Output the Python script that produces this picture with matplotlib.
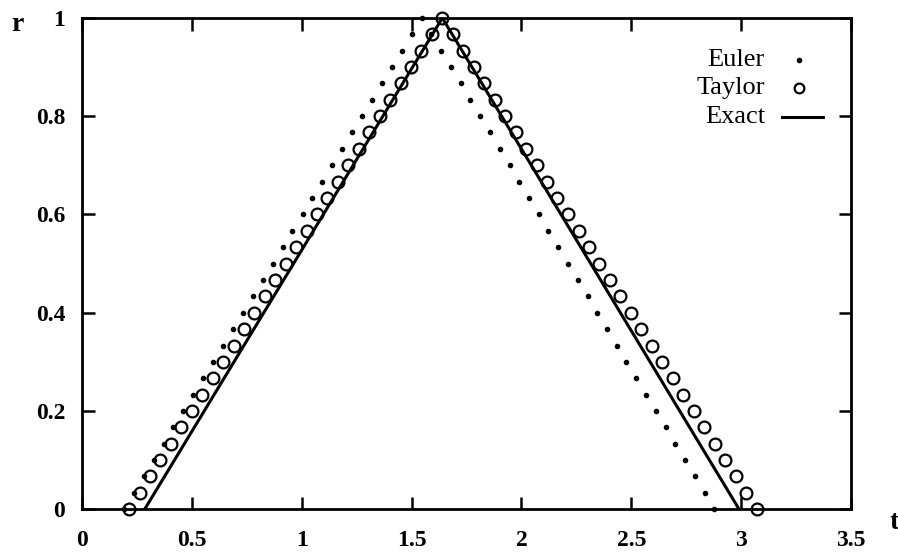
import matplotlib.pyplot as plt

# Exact solution (piecewise linear)
exact_t = [0.286, 1.640, 2.990]
exact_r = [0.0, 1.0, 0.0]

# Shared r values for the numerical schemes (up then down)
r_up = [0.0, 0.033, 0.067, 0.1, 0.133, 0.167, 0.2, 0.233, 0.267, 0.3,
        0.333, 0.367, 0.4, 0.433, 0.467, 0.5, 0.533, 0.567, 0.6, 0.633,
        0.667, 0.7, 0.733, 0.767, 0.8, 0.833, 0.867, 0.9, 0.933, 0.967, 1.0]
r_down = [0.967, 0.933, 0.9, 0.867, 0.833, 0.8, 0.767, 0.733, 0.7, 0.667,
          0.633, 0.6, 0.567, 0.533, 0.5, 0.467, 0.433, 0.4, 0.367, 0.333,
          0.3, 0.267, 0.233, 0.2, 0.167, 0.133, 0.1, 0.067, 0.033, 0.0]
scheme_r = r_up + r_down

taylor_t = [0.215, 0.262, 0.310, 0.357, 0.405, 0.452, 0.500, 0.547, 0.595, 0.642,
            0.690, 0.737, 0.785, 0.832, 0.880, 0.927, 0.975, 1.022, 1.070, 1.117,
            1.165, 1.212, 1.260, 1.307, 1.355, 1.402, 1.450, 1.497, 1.545, 1.592,
            1.640,
            1.688, 1.735, 1.783, 1.831, 1.878, 1.926, 1.974, 2.021, 2.069, 2.117,
            2.164, 2.212, 2.260, 2.307, 2.355, 2.403, 2.450, 2.498, 2.546, 2.593,
            2.641, 2.689, 2.736, 2.784, 2.832, 2.879, 2.927, 2.975, 3.022, 3.070]

euler_t = [0.190, 0.235, 0.280, 0.326, 0.371, 0.416, 0.461, 0.506, 0.552, 0.597,
           0.642, 0.687, 0.732, 0.778, 0.823, 0.868, 0.913, 0.958, 1.004, 1.049,
           1.094, 1.139, 1.184, 1.230, 1.275, 1.320, 1.365, 1.410, 1.456, 1.501,
           1.546,
           1.590, 1.635, 1.679, 1.724, 1.768, 1.812, 1.857, 1.901, 1.946, 1.990,
           2.034, 2.079, 2.123, 2.168, 2.212, 2.256, 2.301, 2.345, 2.390, 2.434,
           2.478, 2.523, 2.567, 2.612, 2.656, 2.700, 2.745, 2.789, 2.834, 2.878]

x_ticks = [0, 0.5, 1, 1.5, 2, 2.5, 3, 3.5]
x_labels = ['0', '0.5', '1', '1.5', '2', '2.5', '3', '3.5']
y_ticks = [0, 0.2, 0.4, 0.6, 0.8, 1]
y_labels = ['0', '0.2', '0.4', '0.6', '0.8', '1']

plt.rcParams['font.family'] = ['Liberation Serif', 'DejaVu Serif']
plt.rcParams['font.weight'] = 'bold'

fig = plt.figure(figsize=(8.98, 5.54), dpi=100)
ax = fig.add_axes([0.0913, 0.0812, 0.8564, 0.8863])

euler_style = dict(linestyle='none', marker='o', markersize=3, color='black')
taylor_style = dict(linestyle='none', marker='o', markersize=8.5,
                    markerfacecolor='none', markeredgecolor='black',
                    markeredgewidth=1.6)
exact_style = dict(color='black', linewidth=2.2)

ax.plot(euler_t, scheme_r, clip_on=False, **euler_style)
ax.plot(taylor_t, scheme_r, clip_on=False, **taylor_style)
ax.plot(exact_t, exact_r, **exact_style)

ax.set_xlim(0, 3.5)
ax.set_ylim(0, 1)
ax.set_xticks(x_ticks)
ax.set_xticklabels(x_labels)
ax.set_yticks(y_ticks)
ax.set_yticklabels(y_labels)
ax.tick_params(direction='in', length=9, width=1.8, top=True, right=True,
               labelsize=17)
ax.tick_params(axis='x', pad=15)
ax.tick_params(axis='y', pad=12)
for s in ax.spines.values():
    s.set_linewidth(2)

fig.text(0.012, 0.955, 'r', fontsize=20, ha='left', va='center')
fig.text(0.99, 0.056, 't', fontsize=20, ha='left', va='center')

# gnuplot-style key: right-aligned labels, sample to the right
key_rows = [('Euler', euler_style, 0.914), ('Taylor', taylor_style, 0.857),
            ('Exact', exact_style, 0.798)]
for label, style, ky in key_rows:
    ax.text(0.888, ky, label, transform=ax.transAxes, ha='right', va='center',
            fontsize=19, fontweight='normal')
    if style.get('linestyle') == 'none':
        ms = 7 if label == 'Taylor' else 3
        ax.plot([0.932], [ky], transform=ax.transAxes, clip_on=False,
                **dict(style, markersize=ms))
    else:
        ax.plot([0.910, 0.964], [ky, ky], transform=ax.transAxes, **style)

fig.savefig('out.png', dpi=100)
